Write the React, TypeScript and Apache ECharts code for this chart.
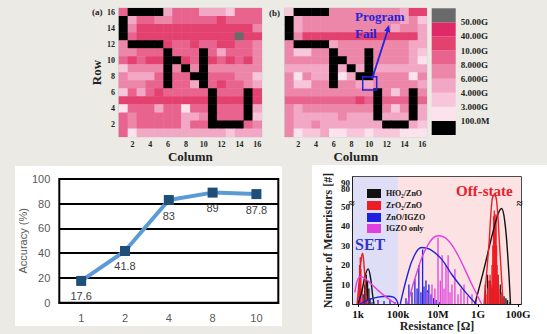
import React, { useEffect, useRef } from "react";
import * as echarts from "echarts";

// ---------- heat maps (levels 0..8, rows listed from row 16 down to row 1) ----------
const columns = ["1", "2", "3", "4", "5", "6", "7", "8", "9", "10", "11", "12", "13", "14", "15", "16"];
const rowNames = ["1", "2", "3", "4", "5", "6", "7", "8", "9", "10", "11", "12", "13", "14", "15", "16"];
const levelColors = ["#000000", "#fce2ec", "#f7c6da", "#f2a8c4", "#ed87aa", "#e8648f", "#e3416f", "#e02a68", "#6a6a6a"];
const legendLabels = ["100.0M", "3.000G", "4.000G", "6.000G", "8.000G", "10.00G", "40.00G", "50.00G"];

const mapA = [
  "5000035553332555",
  "0355445555565555",
  "0466666666666664",
  "0566666666666866",
  "4000065565566554",
  "4455505550535554",
  "5656600650656564",
  "2444404040444444",
  "4333505500555442",
  "4445505530565543",
  "2535655555055506",
  "6666666666066606",
  "1555355155055503",
  "5455555334055502",
  "5455555355000054",
  "5133333333332333",
];
const mapB = [
  "2000044444444366",
  "0344444444444342",
  "0344444444443443",
  "0466666666666663",
  "4000034444444433",
  "4224404440444432",
  "4444400440444431",
  "3333303030333333",
  "4143301300444414",
  "4224404433444443",
  "4444444444042404",
  "5555555565055505",
  "4344444444042403",
  "4333334333033303",
  "4334333333300032",
  "4122311221222111",
];

// ---------- accuracy line chart ----------
const accCategories = ["1", "2", "4", "8", "10"];
const accuracy = [17.6, 41.8, 83, 89, 87.8];

// ---------- resistance histogram ----------
const resTicks = [1e3, 1e5, 1e7, 1e9, 1e11];
const resTickLabels = ["1k", "100k", "10M", "1G", "100G"];
const countTicks = [0, 10, 20, 30, 40, 50, 80, 90, 100];
const setRegionEnd = 1e5;
const resMin = 10 ** 2.75;
const resMax = 10 ** 11.15;

const hfBars = [[1.8e3, 5], [2.2e3, 10], [2.6e3, 15], [3e3, 12], [3.5e3, 8], [4e3, 3], [2.3e9, 10], [3e9, 15], [4e9, 12], [5e9, 8], [8e9, 25], [1e10, 15], [1.3e10, 10], [1.6e10, 6], [2e10, 4], [2.5e10, 3], [3e10, 2], [4e10, 1]];
const hfFitSet = [[1e3, 0], [1.6e3, 7], [2.2e3, 14], [3.2e3, 18], [4.3e3, 13], [5.3e3, 5], [6.3e3, 0]];
const hfFitOff = [[7e8, 0], [2e9, 18], [5e9, 35], [1e10, 46], [1.5e10, 49], [2.2e10, 42], [3.2e10, 22], [4.2e10, 0]];

const zrBars = [[1.1e3, 10], [1.2e3, 20], [1.3e3, 24], [1.4e3, 18], [1.6e3, 8], [1.8e3, 3], [2.5e9, 5], [3e9, 8], [3.5e9, 12], [4e9, 15], [4.5e9, 10], [5e9, 20], [5.5e9, 30], [6e9, 45], [6.5e9, 48], [7e9, 46], [7.5e9, 40], [8e9, 46], [8.5e9, 30], [9e9, 20], [1e10, 15], [1.1e10, 8], [1.3e10, 5], [1.6e10, 3], [2e10, 2]];
const zrFitSet = [[0.9e3, 0], [1.2e3, 14], [1.5e3, 24], [1.7e3, 26], [2e3, 20], [2.4e3, 8], [2.8e3, 0]];
const zrFitOff = [[2e9, 0], [3.5e9, 30], [5e9, 60], [6.5e9, 70], [8.5e9, 60], [1.2e10, 30], [1.8e10, 0]];

const igzoBars = [[5e3, 1], [1e4, 2], [2e4, 1.5], [4e4, 2], [7e4, 1], [2.5e5, 3], [3.5e5, 10], [5e5, 6], [7e5, 13], [9e5, 8], [1.1e6, 20], [1.4e6, 6], [1.7e6, 28], [2e6, 9], [2.5e6, 12], [3e6, 7], [3.5e6, 10], [4.5e6, 5], [6e6, 3], [8e6, 2], [1.2e7, 1]];
const igzoFitSet = [[1.3e3, 0], [3e3, 2], [1e4, 3.5], [3e4, 4], [6e4, 3.5], [8.5e4, 2], [1e5, 0]];
const igzoFitOff = [[1.3e5, 0], [3e5, 15], [6e5, 24], [1.5e6, 29], [4e6, 28], [1.5e7, 23], [5e7, 15], [2e8, 7], [8e8, 0]];

const onlyBars = [[1e3, 3], [1.5e3, 5], [3e3, 2], [1e4, 1], [3e6, 6], [5e6, 10], [7e6, 8], [1e7, 34], [1.3e7, 12], [1.6e7, 25], [2e7, 8], [2.5e7, 20], [3.2e7, 25], [4e7, 6], [5e7, 10], [7e7, 18], [1e8, 5], [1.4e8, 8], [2e8, 10], [3e8, 4], [5e8, 5], [8e8, 2]];
const onlyFitSet = [[0.7e3, 6], [1e3, 13], [1.5e3, 14], [3e3, 12], [1e4, 7], [3e4, 3], [8e4, 0]];
const onlyFitOff = [[3e5, 0], [1e6, 18], [3e6, 30], [1e7, 35], [3e7, 33], [1e8, 25], [4e8, 12], [1.5e9, 0]];

const seriesNames = ["HfO2/ZnO", "ZrO2/ZnO", "ZnO/IGZO", "IGZO only"];
const seriesColors = ["#111111", "#ee1c24", "#2020e0", "#e040e0"];

const SERIF = "Liberation Serif";

function toD(c: number) {
  return c <= 50 ? c : 50 + (c - 50) * 0.303;
}
function fromD(d: number) {
  return d <= 50 ? d : 50 + (d - 50) / 0.303;
}

function toCells(map: string[]) {
  const out: number[][] = [];
  map.forEach((row, i) => {
    for (let j = 0; j < 16; j++) out.push([j, 15 - i, Number(row[j])]);
  });
  return out;
}

function histPts(arr: number[][]) {
  return arr.map(([r, c]) => [Math.log10(r), toD(c)]);
}

function heatAxes(gridIndex: number, showYLabels: boolean) {
  const even = (i: number) => i % 2 === 1;
  const x = {
    gridIndex,
    type: "category",
    data: columns,
    axisLine: { lineStyle: { color: "#999", width: 0.8 } },
    axisTick: { alignWithLabel: true, interval: even, length: 3, lineStyle: { color: "#777" } },
    axisLabel: { interval: even, fontFamily: SERIF, fontWeight: "bold", fontSize: 8, color: "#222", margin: 4 },
    splitLine: { show: false },
    name: "Column",
    nameLocation: "middle",
    nameGap: 13,
    nameTextStyle: { fontFamily: SERIF, fontWeight: "bold", fontSize: 13, color: "#222" },
  };
  const y: any = {
    gridIndex,
    type: "category",
    data: rowNames,
    axisLine: { lineStyle: { color: "#999", width: 0.8 } },
    axisTick: { alignWithLabel: true, interval: even, length: 3, lineStyle: { color: "#777" } },
    axisLabel: { show: showYLabels, interval: even, fontFamily: SERIF, fontWeight: "bold", fontSize: 8, color: "#222", margin: 4 },
    splitLine: { show: false },
  };
  if (showYLabels) {
    y.name = "Row";
    y.nameLocation = "middle";
    y.nameGap = 15;
    y.nameTextStyle = { fontFamily: SERIF, fontWeight: "bold", fontSize: 13, color: "#222" };
  }
  return { x, y };
}

export default function App() {
  const ref = useRef<HTMLDivElement>(null);

  useEffect(() => {
    if (!ref.current) return;
    const chart = echarts.init(ref.current, undefined, { renderer: "svg" });

    const hA = heatAxes(0, true);
    const hB = heatAxes(1, false);
    const xLog = resTicks.map((r) => Math.log10(r));
    const yCustom = countTicks.map(toD);

    const histSeries: any[] = [];
    const barSets = [hfBars, zrBars, igzoBars, onlyBars];
    const fitSets = [
      [hfFitSet, hfFitOff],
      [zrFitSet, zrFitOff],
      [igzoFitSet, igzoFitOff],
      [onlyFitSet, onlyFitOff],
    ];
    seriesNames.forEach((name, k) => {
      histSeries.push({
        name,
        type: "bar",
        xAxisIndex: 4,
        yAxisIndex: 4,
        barWidth: 1.3,
        barGap: "-100%",
        z: 3,
        itemStyle: { color: seriesColors[k] },
        data: histPts(barSets[k]),
      });
      fitSets[k].forEach((fit) => {
        histSeries.push({
          name,
          type: "line",
          xAxisIndex: 4,
          yAxisIndex: 4,
          smooth: 0.4,
          showSymbol: false,
          symbol: "none",
          z: 4,
          lineStyle: { color: seriesColors[k], width: 1.4 },
          itemStyle: { color: seriesColors[k] },
          data: histPts(fit),
        });
      });
    });

    const legendRich: Record<string, string> = {
      "HfO2/ZnO": "{t|HfO}{s|2}{t|/ZnO}",
      "ZrO2/ZnO": "{t|ZrO}{s|2}{t|/ZnO}",
      "ZnO/IGZO": "{t|ZnO/IGZO}",
      "IGZO only": "{t|IGZO only}",
    };

    const option: any = {
      animation: false,
      backgroundColor: "transparent",
      grid: [
        { left: 119, top: 8.3, width: 142.7, height: 128.4, show: true, borderColor: "#aaa", borderWidth: 0.8, outerBoundsMode: "none" },
        { left: 285, top: 8.3, width: 141.7, height: 128.4, show: true, borderColor: "#aaa", borderWidth: 0.8, outerBoundsMode: "none" },
        { left: 431.7, top: 8.3, width: 24, height: 126.7, outerBoundsMode: "none" },
        { left: 59.3, top: 179, width: 219, height: 123.7, show: true, borderColor: "#000", borderWidth: 2, outerBoundsMode: "none" },
        { left: 353, top: 177, width: 168, height: 127, show: true, borderColor: "#111", borderWidth: 1.5, outerBoundsMode: "none" },
      ],
      xAxis: [
        hA.x,
        hB.x,
        { gridIndex: 2, type: "category", data: ["c"], show: false },
        {
          gridIndex: 3,
          type: "category",
          data: accCategories,
          axisLine: { lineStyle: { color: "#000", width: 2 } },
          axisTick: { show: false },
          axisLabel: { color: "#595959", fontSize: 11, fontFamily: "Liberation Sans", margin: 10 },
        },
        {
          gridIndex: 4,
          type: "value",
          min: Math.log10(resMin),
          max: Math.log10(resMax),
          axisLine: { lineStyle: { color: "#111", width: 1.5 } },
          axisTick: { inside: true, length: 4, customValues: xLog, lineStyle: { color: "#111" } },
          axisLabel: {
            customValues: xLog,
            formatter: (v: number) => {
              const i = xLog.findIndex((t) => Math.abs(t - v) < 1e-6);
              return i >= 0 ? resTickLabels[i] : "";
            },
            fontFamily: SERIF,
            fontWeight: "bold",
            fontSize: 11,
            color: "#111",
            margin: 4,
          },
          splitLine: { show: false },
          name: "Resistance [Ω]",
          nameLocation: "middle",
          nameGap: 16,
          nameTextStyle: { fontFamily: SERIF, fontWeight: "bold", fontSize: 12, color: "#222" },
        },
        {
          gridIndex: 4,
          type: "value",
          position: "top",
          min: Math.log10(resMin),
          max: Math.log10(resMax),
          axisLine: { show: false },
          axisTick: { inside: true, length: 3, customValues: xLog, lineStyle: { color: "#111" } },
          axisLabel: { show: false },
          splitLine: { show: false },
        },
      ],
      yAxis: [
        hA.y,
        hB.y,
        {
          gridIndex: 2,
          type: "value",
          min: 0,
          max: 9,
          interval: 1,
          position: "right",
          axisLine: { show: false },
          axisTick: { show: false },
          splitLine: { show: false },
          axisLabel: {
            formatter: (v: number) => (v >= 1 && v <= 8 ? legendLabels[v - 1] : ""),
            fontFamily: SERIF,
            fontWeight: "bold",
            fontSize: 9,
            color: "#222",
            margin: 5,
          },
        },
        {
          gridIndex: 3,
          type: "value",
          min: 0,
          max: 100,
          interval: 20,
          axisLine: { show: false },
          axisTick: { show: false },
          splitLine: { lineStyle: { color: "#000", width: 2 } },
          axisLabel: { color: "#595959", fontSize: 11, fontFamily: "Liberation Sans", margin: 9 },
          name: "Accuracy (%)",
          nameLocation: "middle",
          nameGap: 29,
          nameTextStyle: { color: "#595959", fontSize: 11, fontFamily: "Liberation Sans" },
        },
        {
          gridIndex: 4,
          type: "value",
          min: 0,
          max: toD(100),
          axisLine: { lineStyle: { color: "#111", width: 1.5 } },
          axisTick: { inside: true, length: 4, customValues: yCustom, lineStyle: { color: "#111" } },
          axisLabel: {
            customValues: yCustom,
            formatter: (v: number) => String(Math.round(fromD(v))),
            fontFamily: SERIF,
            fontWeight: "bold",
            fontSize: 9,
            lineHeight: 7,
            color: "#111",
            margin: 3,
          },
          splitLine: { show: false },
          name: "Number of Memristors [#]",
          nameLocation: "middle",
          nameGap: 19,
          nameTextStyle: { fontFamily: SERIF, fontWeight: "bold", fontSize: 12, color: "#222" },
        },
        {
          gridIndex: 4,
          type: "value",
          position: "right",
          min: 0,
          max: toD(100),
          axisLine: { show: false },
          axisTick: { inside: true, length: 4, customValues: yCustom, lineStyle: { color: "#111" } },
          axisLabel: { show: false },
          splitLine: { show: false },
        },
      ],
      visualMap: {
        type: "piecewise",
        show: false,
        dimension: 2,
        seriesIndex: [0, 1],
        pieces: levelColors.map((c, i) => ({ value: i, color: c })),
      },
      legend: {
        data: seriesNames.map((n) => ({ name: n, icon: "rect" })),
        orient: "vertical",
        left: 362,
        top: 184,
        itemWidth: 14,
        itemHeight: 9,
        itemGap: 2,
        selectedMode: false,
        formatter: (n: string) => legendRich[n] || n,
        textStyle: {
          color: "#111",
          rich: {
            t: { fontFamily: SERIF, fontWeight: "bold", fontSize: 8, color: "#111" },
            s: { fontFamily: SERIF, fontWeight: "bold", fontSize: 5.5, color: "#111", padding: [5, 0, 0, 0] },
          },
        },
      },
      series: [
        { type: "heatmap", xAxisIndex: 0, yAxisIndex: 0, data: toCells(mapA), itemStyle: { borderWidth: 0 } },
        { type: "heatmap", xAxisIndex: 1, yAxisIndex: 1, data: toCells(mapB), itemStyle: { borderWidth: 0 } },
        ...levelColors.map((c) => ({
          type: "bar",
          xAxisIndex: 2,
          yAxisIndex: 2,
          stack: "cb",
          barWidth: "100%",
          data: [1],
          itemStyle: { color: c },
        })),
        {
          type: "line",
          xAxisIndex: 3,
          yAxisIndex: 3,
          data: accuracy,
          symbol: "rect",
          symbolSize: 10,
          itemStyle: { color: "#1f4e79" },
          lineStyle: { color: "#5b9bd5", width: 4 },
          label: { show: true, position: "bottom", distance: 5, color: "#404040", fontSize: 11, fontFamily: "Liberation Sans" },
        },
        {
          type: "line",
          xAxisIndex: 4,
          yAxisIndex: 4,
          data: [[Math.log10(resMin), 0]],
          symbol: "none",
          z: 1,
          lineStyle: { width: 0 },
          markArea: {
            silent: true,
            data: [
              [{ xAxis: Math.log10(resMin), itemStyle: { color: "#dedff6" } }, { xAxis: Math.log10(setRegionEnd) }],
              [{ xAxis: Math.log10(setRegionEnd), itemStyle: { color: "#fce2e2" } }, { xAxis: Math.log10(resMax) }],
            ],
          },
        },
        ...histSeries,
      ],
      graphic: [
        { type: "rect", z: -10, silent: true, shape: { x: 15, y: 166, width: 267, height: 160 }, style: { fill: "#ffffff" } },
        { type: "rect", z: -10, silent: true, shape: { x: 312, y: 165, width: 235, height: 169 }, style: { fill: "#ffffff" } },
        { type: "text", z: 100, x: 92, y: 7, style: { text: "(a)", font: `bold 9px '${SERIF}'`, fill: "#222" } },
        { type: "text", z: 100, x: 269, y: 8, style: { text: "(b)", font: `bold 9px '${SERIF}'`, fill: "#222" } },
        { type: "text", z: 100, x: 355, y: 10, style: { text: "Program", font: `bold 13px '${SERIF}'`, fill: "#2424d8" } },
        { type: "text", z: 100, x: 355, y: 27, style: { text: "Fail", font: `bold 13px '${SERIF}'`, fill: "#2424d8" } },
        { type: "rect", z: 100, shape: { x: 362.7, y: 76.7, width: 14, height: 13.3 }, style: { fill: "none", stroke: "#2222dd", lineWidth: 1.5 } },
        { type: "line", z: 100, shape: { x1: 372, y1: 79, x2: 387.5, y2: 31 }, style: { stroke: "#2222dd", lineWidth: 1.8 } },
        { type: "polygon", z: 100, shape: { points: [[389, 25], [390.2, 32.8], [384.2, 30.8]] }, style: { fill: "#2222dd" } },
        { type: "text", z: 100, x: 355, y: 236, style: { text: "SET", font: `bold 16px '${SERIF}'`, fill: "#3535c8" } },
        { type: "text", z: 100, x: 456, y: 183, style: { text: "Off-state", font: `bold 15px '${SERIF}'`, fill: "#e8202a" } },
        { type: "text", z: 100, x: 348.5, y: 197.5, style: { text: "≈", font: `bold 11px '${SERIF}'`, fill: "#111" } },
        { type: "text", z: 100, x: 516.5, y: 197.5, style: { text: "≈", font: `bold 11px '${SERIF}'`, fill: "#111" } },
      ],
    };

    chart.setOption(option);
    return () => chart.dispose();
  }, []);

  return (
    <div style={{ position: "fixed", left: 0, top: 0, width: 547, height: 334, background: "#ebeae5" }}>
      <div ref={ref} style={{ width: 547, height: 334 }} />
    </div>
  );
}
